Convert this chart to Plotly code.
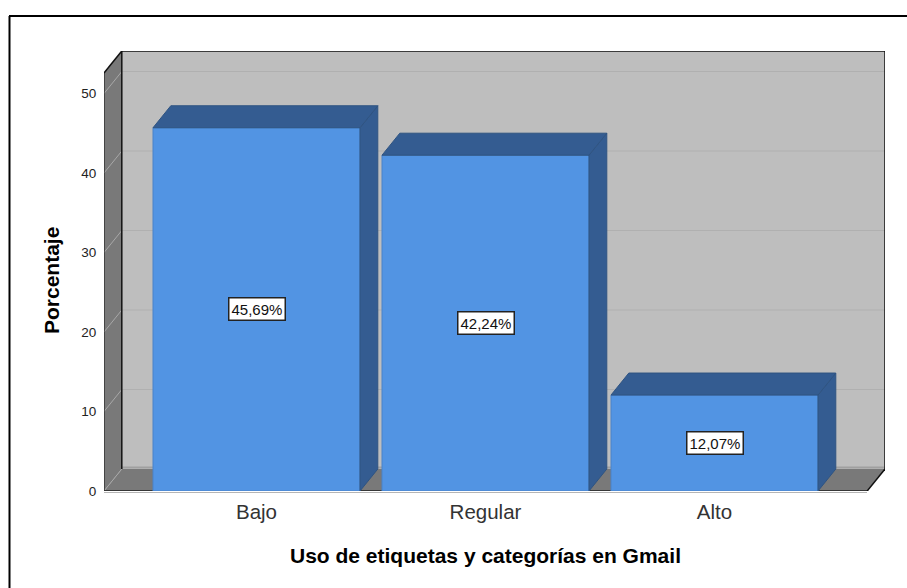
import plotly.graph_objects as go

categories = ["Bajo", "Regular", "Alto"]
values = [45.69, 42.24, 12.07]
y_ticks = [0, 10, 20, 30, 40, 50]
x_title = "Uso de etiquetas y categorías en Gmail"
y_title = "Porcentaje"

W, H = 907, 588
L, R, T, B = 104, 885, 51, 491  # plot box in window pixels
X_STEP = 229.0
Y_STEP = 7.95
x_min = (L - 256.5) / X_STEP
x_max = (R - 256.5) / X_STEP
y_max = (B - T) / Y_STEP
dx = 17.8 / X_STEP
dy = 22.0 / Y_STEP
bar_w = 207.0 / X_STEP
x_pos = list(range(len(categories)))

FRONT = "#5294E3"
DARK = "#345C91"
WALL = "#BEBEBE"
SIDE = "#797979"
GRID = "#B0B0B0"
EDGE = "#111111"


def paper_x(px):
    return (px - L) / (R - L)


def paper_y(py):
    return (B - py) / (B - T)


def poly(xs, ys, fill, line=None, width=0.0):
    path = "M " + " L ".join(f"{a},{b}" for a, b in zip(xs, ys)) + " Z"
    return dict(type="path", path=path, xref="x", yref="y", fillcolor=fill,
                line=dict(color=line or fill, width=width), layer="below")


def seg(x0, y0, x1, y1, color, width=1.0):
    return dict(type="line", x0=x0, y0=y0, x1=x1, y1=y1, xref="x", yref="y",
                line=dict(color=color, width=width), layer="below")


wall_top = y_max - dy
x_front_r = x_max - dx
x_back_l = x_min + dx

shapes = [
    poly([x_back_l, x_max, x_max, x_back_l], [dy, dy, y_max, y_max], WALL),
    poly([x_min, x_back_l, x_back_l, x_min], [0, dy, y_max, wall_top], SIDE),
    poly([x_min, x_front_r, x_max, x_back_l], [0, 0, dy, dy], SIDE),
    seg(x_back_l, dy + 0.2, x_max, dy + 0.2, "#A0A0A0", 2),
]
for t in y_ticks:
    shapes.append(seg(x_min, t, x_back_l, t + dy, "#A8A8A8", 1))
    if t > 0:
        shapes.append(seg(x_back_l, t + dy, x_max, t + dy, GRID, 1))
shapes += [
    seg(x_back_l, dy, x_back_l, y_max, EDGE, 1.5),
    seg(x_back_l, y_max, x_max, y_max, EDGE, 1.5),
    seg(x_max, y_max, x_max, dy, EDGE, 1.5),
    seg(x_min, wall_top, x_back_l, y_max, EDGE, 1.5),
    seg(x_min, 0, x_min, wall_top, EDGE, 1),
    seg(x_min, 0, x_front_r, 0, "#222222", 1.5),
    seg(x_front_r, 0, x_max, dy, EDGE, 1.5),
    dict(type="line", xref="paper", yref="paper", x0=paper_x(104), x1=paper_x(867),
         y0=paper_y(492.5), y1=paper_y(492.5), line=dict(color="#B5B5B5", width=1)),
    dict(type="line", xref="paper", yref="paper", x0=paper_x(9.5), x1=paper_x(9.5),
         y0=paper_y(16), y1=paper_y(600), line=dict(color="#000000", width=2)),
    dict(type="line", xref="paper", yref="paper", x0=paper_x(9), x1=paper_x(920),
         y0=paper_y(16), y1=paper_y(16), line=dict(color="#000000", width=2)),
]

fig = go.Figure()
fig.add_bar(x=x_pos, y=values, width=bar_w, marker=dict(color=FRONT, line=dict(color="#4A82C8", width=1)),
            hoverinfo="skip", showlegend=False)

for c, v in zip(x_pos, values):
    l, r = c - bar_w / 2, c + bar_w / 2
    fig.add_scatter(x=[r, r + dx, r + dx, r, r], y=[0, dy, v + dy, v, 0], mode="lines", fill="toself",
                    fillcolor=DARK, line=dict(color="#2F5482", width=1), hoverinfo="skip", showlegend=False)
    fig.add_scatter(x=[l, r, r + dx, l + dx, l], y=[v, v, v + dy, v + dy, v], mode="lines", fill="toself",
                    fillcolor=DARK, line=dict(color="#2F5482", width=1), hoverinfo="skip", showlegend=False)

annotations = []
for c, v in zip(x_pos, values):
    annotations.append(dict(x=c, y=v / 2, xref="x", yref="y", showarrow=False,
                            xanchor="center", yanchor="middle",
                            text=f"{v:.2f}%".replace(".", ","),
                            font=dict(family="Liberation Sans", size=15, color="#111111"),
                            bgcolor="#FFFFFF", bordercolor="#222222", borderwidth=1.5, borderpad=2))
annotations.append(dict(x=1, y=paper_y(555), xref="x", yref="paper", showarrow=False,
                        xanchor="center", yanchor="middle", text=f"<b>{x_title}</b>",
                        font=dict(family="Liberation Sans", size=21, color="#000000")))
annotations.append(dict(x=paper_x(51), y=paper_y(281), xref="paper", yref="paper", showarrow=False,
                        xanchor="center", yanchor="middle",
                        text=f"<b>{y_title}</b>", textangle=-90,
                        font=dict(family="Liberation Sans", size=21, color="#000000")))

fig.update_layout(
    width=W, height=H, autosize=False,
    margin=dict(l=L, r=W - R, t=T, b=H - B, pad=0),
    paper_bgcolor="#FFFFFF", plot_bgcolor="rgba(0,0,0,0)",
    shapes=shapes, annotations=annotations, showlegend=False,
    xaxis=dict(range=[x_min, x_max], tickmode="array", tickvals=x_pos, ticktext=categories,
               showgrid=False, zeroline=False, showline=False, ticks="outside", ticklen=2,
               tickcolor="rgba(0,0,0,0)", tickfont=dict(family="Liberation Sans", size=20.5, color="#333333")),
    yaxis=dict(range=[0, y_max], tickmode="array", tickvals=y_ticks, ticktext=[str(t) for t in y_ticks],
               showgrid=False, zeroline=False, showline=False, ticks="outside", ticklen=4,
               tickcolor="rgba(0,0,0,0)", tickfont=dict(family="Liberation Sans", size=13.5, color="#222222")),
)
fig.write_html("out.html", config=dict(displayModeBar=False),
               post_script="document.body.style.margin='0';")
